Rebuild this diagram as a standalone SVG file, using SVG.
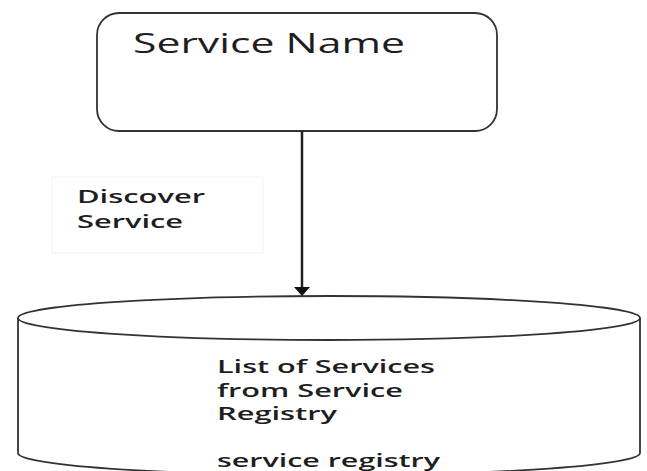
<svg xmlns="http://www.w3.org/2000/svg" width="647" height="471" viewBox="0 0 647 471">
<defs>
<style>
.t{font-family:"Open Sans","Liberation Sans",sans-serif;fill:#1e1e1e}
.s{fill:none;stroke:#333;stroke-width:1.8}
</style>
<marker id="ah" viewBox="0 0 16 10" refX="16" refY="5" markerWidth="10" markerHeight="16" markerUnits="userSpaceOnUse" orient="auto"><path d="M0,0 L10,8 L0,16 Z" fill="#111"/></marker>
</defs>
<rect width="647" height="471" fill="#fff"/>
<g id="service-name">
<rect x="97" y="13" width="400" height="118" rx="22" ry="22" class="s" fill="#fff"/>
<text class="t" x="133" y="53" font-size="28" textLength="272" lengthAdjust="spacingAndGlyphs">Service Name</text>
</g>
<g id="label-discover">
<rect x="52" y="177" width="211" height="76" fill="none" stroke="#f3f3f3" stroke-width="1"/>
<text class="t" x="77" y="203" font-size="18" font-weight="600" textLength="128" lengthAdjust="spacingAndGlyphs">Discover</text>
<text class="t" x="77" y="228" font-size="18" font-weight="600" textLength="106" lengthAdjust="spacingAndGlyphs">Service</text>
</g>
<g id="service-registry">
<path d="M18,318 L18,453 A311,22 0 0 0 640,453 L640,318" class="s" fill="#fff" stroke-width="2.2"/>
<ellipse cx="329" cy="318" rx="311" ry="22" class="s" fill="#fff"/>
<text class="t" x="217" y="373" font-size="18" font-weight="600" textLength="218" lengthAdjust="spacingAndGlyphs">List of Services</text>
<text class="t" x="217" y="397" font-size="18" font-weight="600" textLength="186" lengthAdjust="spacingAndGlyphs">from Service</text>
<text class="t" x="217" y="420" font-size="18" font-weight="600" textLength="120" lengthAdjust="spacingAndGlyphs">Registry</text>
<text class="t" x="217" y="467" font-size="18" font-weight="600" textLength="223" lengthAdjust="spacingAndGlyphs">service registry</text>
</g>
<g id="connectors">
<line x1="302" y1="131" x2="302" y2="288" stroke="#222" stroke-width="2.5"/>
<path d="M294,287 L310,287 L302,296 Z" fill="#111"/>
</g>
</svg>
